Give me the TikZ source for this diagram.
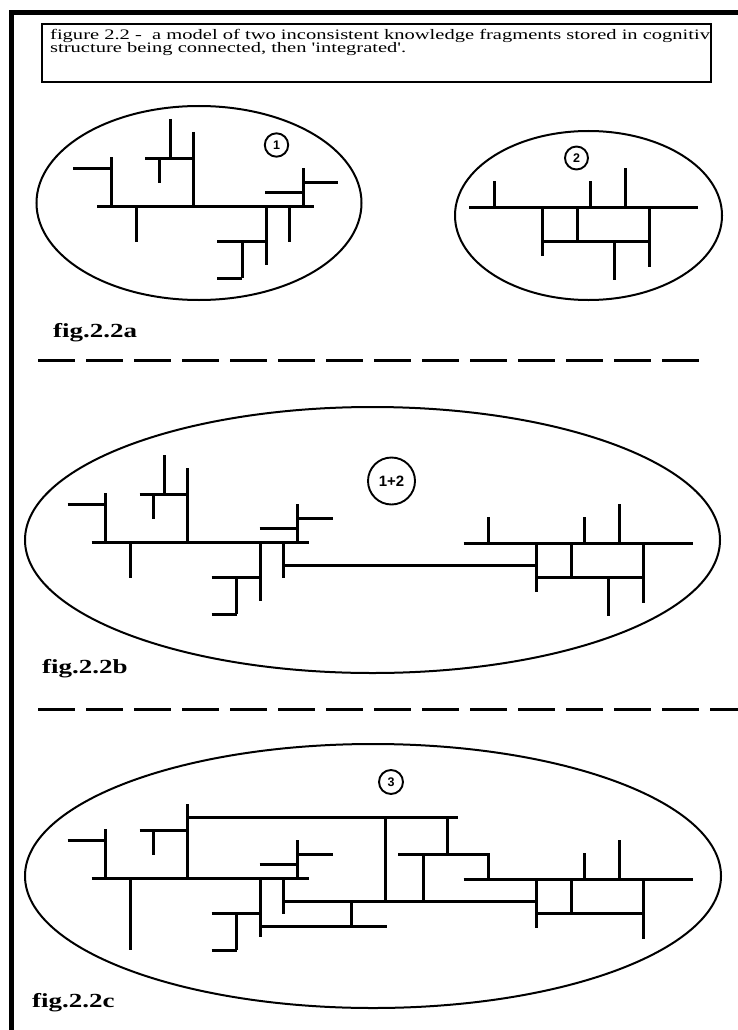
\documentclass[tikz,border=0pt]{standalone}
\usepackage{fontspec}
\setmainfont{Liberation Serif}
\newfontfamily\numfont{Liberation Sans}
\begin{document}
\begin{tikzpicture}[x=1pt,y=-1pt,line join=miter,
  seg/.style={line width=3pt},
  oval/.style={line width=2pt},
  tag/.style={draw,circle,line width=1.9pt,inner sep=0pt,
    font=\numfont\bfseries\fontsize{12.5}{12.5}\selectfont},
  figlabel/.style={anchor=base west,inner sep=0pt,
    font=\bfseries\fontsize{20}{20}\selectfont},
  capline/.style={anchor=base west,inner sep=0pt,
    font=\fontsize{14.5}{14.5}\selectfont},
  divider/.style={line width=3pt,dash pattern=on 37pt off 11pt},
  % fragment 1: shared branches
  pics/leftcore/.style={code={
    \draw[seg] (97,206) -- (314,206);
    \draw[seg] (111,157) -- (111,206);
    \draw[seg] (73,168) -- (111,168);
    \draw[seg] (193,132) -- (193,206);
    \draw[seg] (145,158) -- (193,158);
    \draw[seg] (159,158) -- (159,183);
    \draw[seg] (303,168) -- (303,206);
    \draw[seg] (303,182) -- (338,182);
    \draw[seg] (265,192) -- (303,192);
    \draw[seg] (266,206) -- (266,265);
    \draw[seg] (217,241) -- (266,241);
    \draw[seg] (242,241) -- (242,278);
    \draw[seg] (217,278) -- (242,278);
    \draw[seg] (289,206) -- (289,242);
  }},
  % fragment 2: shared branches
  pics/rightcore/.style={code={
    \draw[seg] (469,207) -- (698,207);
    \draw[seg] (494,181) -- (494,207);
    \draw[seg] (590,181) -- (590,207);
    \draw[seg] (625,168) -- (625,207);
    \draw[seg] (542,207) -- (542,256);
    \draw[seg] (577,207) -- (577,241);
    \draw[seg] (649,207) -- (649,267);
    \draw[seg] (542,241) -- (649,241);
  }},
  % branches present before integration
  pics/loose/.style={code={
    \draw[seg] (170,119) -- (170,158);
    \draw[seg] (136,206) -- (136,242);
    \draw[seg] (614,241) -- (614,280);
  }},
  % link between the two fragments
  pics/bridge/.style={code={
    \draw[seg] (289,229) -- (542,229);
  }},
  % new structure after integration
  pics/merged/.style={code={
    \draw[seg] (136,206) -- (136,278);
    \draw[seg] (193,145) -- (463.5,145);
    \draw[seg] (390.5,145) -- (390.5,229);
    \draw[seg] (452.5,145) -- (452.5,182);
    \draw[seg] (403.5,182) -- (494,182);
    \draw[seg] (428.5,182) -- (428.5,229);
    \draw[seg] (356.5,229) -- (356.5,254);
    \draw[seg] (266,254) -- (392.5,254);
  }}
]
\useasboundingbox (0,0) rectangle (737,1030);
\fill[white] (0,0) rectangle (737,1030);

% page frame
\draw[line width=4.5pt] (740,12.5) -- (11.5,12.5) -- (11.5,1032);

% caption
\draw[line width=2.6pt] (42,24) rectangle (711,82);
\node[capline] (capa) at (50,40) {\scalebox{1.415}[1]{figure 2.2 -\ \ a model of two inconsistent knowledge fragments stored in cognitiv}};
\node[capline] (capb) at (50,53) {\scalebox{1.415}[1]{structure being connected, then \textquotesingle integrated\textquotesingle.}};

% fig 2.2a
\draw[oval] (199,203) ellipse [x radius=162.5pt, y radius=97pt];
\draw[oval] (588.5,215.5) ellipse [x radius=133.5pt, y radius=84.5pt];
\pic at (0,0) {leftcore};
\pic at (0,0) {rightcore};
\pic at (0,0) {loose};
\node[tag,minimum size=23.4pt] (one) at (276.5,145) {1};
\node[tag,minimum size=23pt] (two) at (576.5,158) {2};
\node[figlabel] (laba) at (53,337) {\scalebox{1.35}[1]{fig.2.2a}};
\draw[divider] (38,360) -- (699,360);

% fig 2.2b
\draw[oval] (372.5,540) ellipse [x radius=347.5pt, y radius=133pt];
\pic at (-5.5,336) {leftcore};
\pic at (-5.5,336) {rightcore};
\pic at (-5.5,336) {loose};
\pic at (-5.5,336) {bridge};
\node[tag,minimum size=47pt,font=\numfont\bfseries\fontsize{15}{15}\selectfont] (onetwo) at (391.5,481) {1+2};
\node[figlabel] (labb) at (42,673) {\scalebox{1.35}[1]{fig.2.2b}};
\draw[divider] (38,709) -- (745,709);

% fig 2.2c
\draw[oval] (373,876) ellipse [x radius=348pt, y radius=132pt];
\pic at (-5.5,672) {leftcore};
\pic at (-5.5,672) {rightcore};
\pic at (-5.5,672) {bridge};
\pic at (-5.5,672) {merged};
\node[tag,minimum size=24pt] (three) at (391,782) {3};
\node[figlabel] (labc) at (32,1007) {\scalebox{1.35}[1]{fig.2.2c}};
\end{tikzpicture}
\end{document}
